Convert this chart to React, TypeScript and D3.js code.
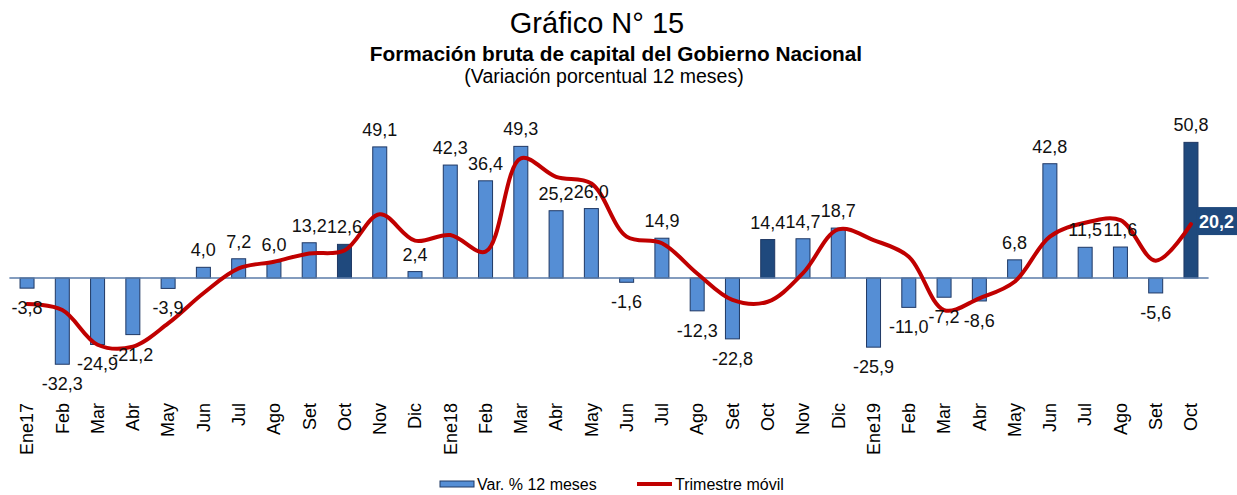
import React, { useEffect, useRef } from 'react';
import * as d3 from 'd3';

// eje x: meses (Ene17 .. Oct19)
const monthLabels = [
    "Ene17", "Feb", "Mar", "Abr", "May", "Jun", "Jul", "Ago", "Set", "Oct", "Nov", "Dic",
    "Ene18", "Feb", "Mar", "Abr", "May", "Jun", "Jul", "Ago", "Set", "Oct", "Nov", "Dic",
    "Ene19", "Feb", "Mar", "Abr", "May", "Jun", "Jul", "Ago", "Set", "Oct"
];

// Var. % 12 meses
const var12 = [
    -3.8, -32.3, -24.9, -21.2, -3.9, 4.0, 7.2, 6.0, 13.2, 12.6, 49.1, 2.4,
    42.3, 36.4, 49.3, 25.2, 26.0, -1.6, 14.9, -12.3, -22.8, 14.4, 14.7, 18.7,
    -25.9, -11.0, -7.2, -8.6, 6.8, 42.8, 11.5, 11.6, -5.6, 50.8
];

// Trimestre movil
const trimestre = [
    -9.7, -12.0, -25.0, -25.7, -17.0, -5.7, 3.6, 6.1, 9.2, 10.3, 23.9, 14.0,
    16.1, 9.9, 44.8, 37.9, 35.4, 15.5, 13.0, 1.7, -8.2, -8.9, 1.8, 18.2,
    14.2, 8.0, -12.0, -7.6, -1.4, 15.5, 20.7, 21.7, 6.5, 20.2
];

// octubres resaltados
const highlighted = [9, 21, 33];

const yDomain = [-40, 60];

const FONT = '"Liberation Sans", Arial, sans-serif';

const fmt = (v: number) => v.toFixed(1).replace(".", ",");

function App() {
    const chartRef = useRef<SVGSVGElement>(null);

    const width = 1237;
    const height = 495;

    useEffect(() => {
        const svg = d3.select(chartRef.current)
            .attr("width", width)
            .attr("height", height);

        svg.selectAll("*").remove();

        const x = d3.scaleBand<number>()
            .domain(d3.range(var12.length))
            .range([9.4, 1208.6])
            .padding(0);

        const y = d3.scaleLinear()
            .domain(yDomain)
            .range([278 + 40 * 2.67, 278 - 60 * 2.67]);

        const cx = (i: number) => x(i)! + x.bandwidth() / 2;
        const barW = 14;

        // titles
        svg.append("text")
            .attr("x", 597).attr("y", 33)
            .attr("text-anchor", "middle")
            .style("font", `29px ${FONT}`)
            .text("Gráfico N° 15");
        svg.append("text")
            .attr("x", 616).attr("y", 61)
            .attr("text-anchor", "middle")
            .style("font", `bold 20.8px ${FONT}`)
            .text("Formación bruta de capital del Gobierno Nacional");
        svg.append("text")
            .attr("x", 604).attr("y", 83)
            .attr("text-anchor", "middle")
            .style("font", `19.5px ${FONT}`)
            .text("(Variación porcentual 12 meses)");

        // bars
        svg.append("g")
            .selectAll("rect")
            .data(var12)
            .join("rect")
            .attr("x", (d, i) => cx(i) - barW / 2)
            .attr("y", d => y(Math.max(0, d)))
            .attr("width", barW)
            .attr("height", d => Math.abs(y(d) - y(0)))
            .attr("fill", (d, i) => highlighted.includes(i) ? "#1F497D" : "#558ED5")
            .attr("stroke", "#1F3864")
            .attr("stroke-width", 1);

        // zero line
        svg.append("line")
            .attr("x1", x.range()[0]).attr("x2", x.range()[1])
            .attr("y1", y(0)).attr("y2", y(0))
            .attr("stroke", "#5A7BA8")
            .attr("stroke-width", 1.5);

        // trimestre movil
        const line = d3.line<number>()
            .x((d, i) => cx(i))
            .y(d => y(d))
            .curve(d3.curveCatmullRom.alpha(0.5));

        svg.append("path")
            .attr("fill", "none")
            .attr("stroke", "#C00000")
            .attr("stroke-width", 4)
            .attr("stroke-linecap", "round")
            .attr("d", line(trimestre));

        // data labels
        svg.append("g")
            .selectAll("text")
            .data(var12)
            .join("text")
            .attr("x", (d, i) => cx(i))
            .attr("y", d => d >= 0 ? y(d) - 11 : y(d) + 26)
            .attr("text-anchor", "middle")
            .style("font", `18px ${FONT}`)
            .attr("fill", "#111")
            .text(d => fmt(d));

        // last trimestre value box
        const last = trimestre.length - 1;
        svg.append("rect")
            .attr("x", cx(last) + 6)
            .attr("y", y(trimestre[last]) - 17)
            .attr("width", 50)
            .attr("height", 28)
            .attr("fill", "#1F497D");
        svg.append("text")
            .attr("x", cx(last) + 8)
            .attr("y", y(trimestre[last]) + 4)
            .style("font", `bold 18px ${FONT}`)
            .attr("fill", "#fff")
            .text(fmt(trimestre[last]));

        // x labels
        svg.append("g")
            .selectAll("text")
            .data(monthLabels)
            .join("text")
            .attr("transform", (d, i) => `translate(${cx(i)},403) rotate(-90)`)
            .attr("dy", "0.35em")
            .attr("text-anchor", "end")
            .style("font", `18px ${FONT}`)
            .text(d => d);

        // legend
        const legend = svg.append("g");
        legend.append("rect")
            .attr("x", 440).attr("y", 481)
            .attr("width", 34).attr("height", 6)
            .attr("fill", "#558ED5")
            .attr("stroke", "#1F3864");
        legend.append("text")
            .attr("x", 477).attr("y", 490)
            .style("font", `16px ${FONT}`)
            .text("Var. % 12 meses");
        legend.append("line")
            .attr("x1", 637).attr("x2", 672)
            .attr("y1", 484).attr("y2", 484)
            .attr("stroke", "#C00000")
            .attr("stroke-width", 4);
        legend.append("text")
            .attr("x", 675).attr("y", 490)
            .style("font", `16px ${FONT}`)
            .text("Trimestre móvil");
    }, []);

    return (
        <div style={{ position: "absolute", left: 0, top: 0 }}>
            <svg ref={chartRef} style={{ display: "block" }}></svg>
        </div>
    );
}

export default App;
